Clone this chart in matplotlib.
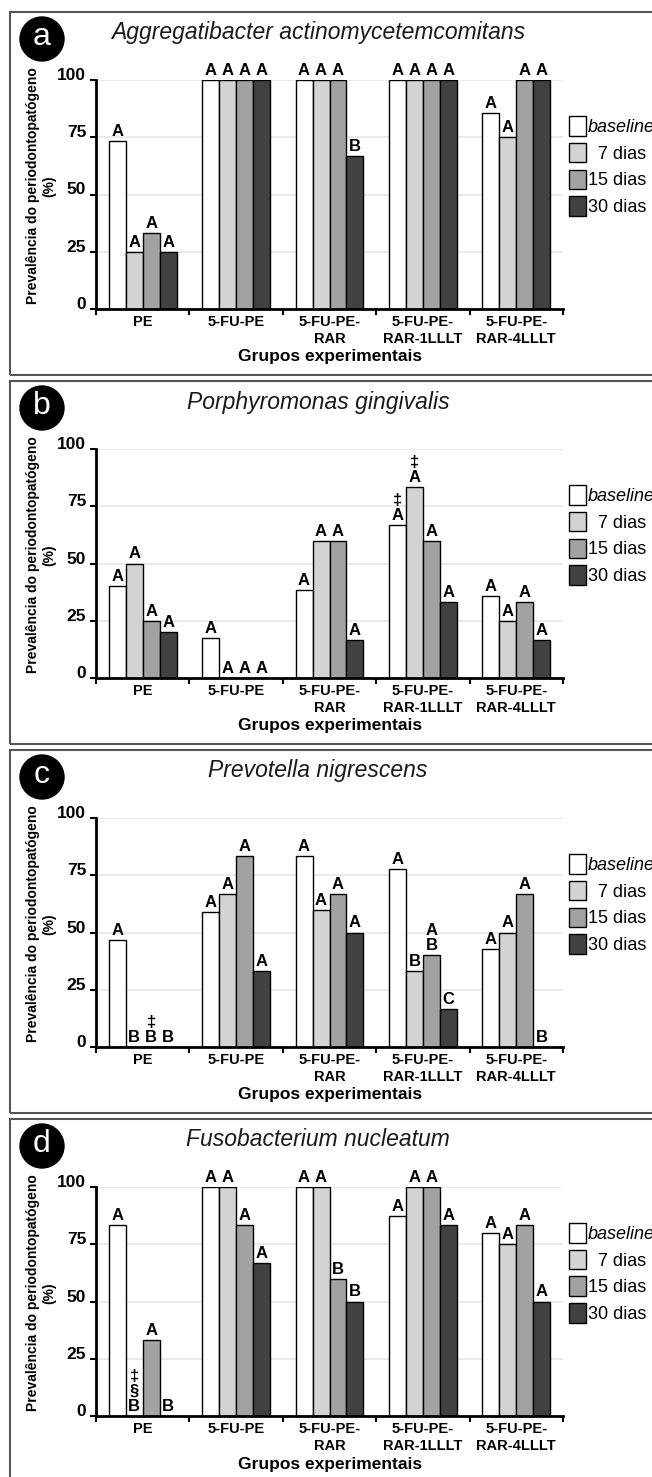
# Prevalence of periodontopathogens per experimental group (4 panels)

import matplotlib
matplotlib.use('Agg')
import matplotlib.pyplot as plt
from matplotlib.patches import Patch, Circle, Rectangle
import numpy as np

plt.rcParams['font.family'] = ['Liberation Sans', 'DejaVu Sans']

# ---- data ----
groups = ['PE', '5-FU-PE', '5-FU-PE-\nRAR', '5-FU-PE-\nRAR-1LLLT', '5-FU-PE-\nRAR-4LLLT']
periods = ['baseline', '\u20077 dias', '15 dias', '30 dias']
colors = ['#ffffff', '#d3d3d3', '#a2a2a2', '#414141']
species = ['Aggregatibacter actinomycetemcomitans', 'Porphyromonas gingivalis',
           'Prevotella nigrescens', 'Fusobacterium nucleatum']
panel_tags = ['a', 'b', 'c', 'd']

# values (%) -> one row per period, one column per group
aa_values = [[73.3, 100, 100, 100, 85.7],
             [25, 100, 100, 100, 75],
             [33.3, 100, 100, 100, 100],
             [25, 100, 66.7, 100, 100]]
aa_letters = [['A', 'A', 'A', 'A', 'A'],
              ['A', 'A', 'A', 'A', 'A'],
              ['A', 'A', 'A', 'A', 'A'],
              ['A', 'A', 'B', 'A', 'A']]

pg_values = [[40, 17.6, 38.5, 66.7, 35.7],
             [50, 0, 60, 83.3, 25],
             [25, 0, 60, 60, 33.3],
             [20, 0, 16.7, 33.3, 16.7]]
pg_letters = [['A', 'A', 'A', '\u2021\nA', 'A'],
              ['A', 'A', 'A', '\u2021\nA', 'A'],
              ['A', 'A', 'A', 'A', 'A'],
              ['A', 'A', 'A', 'A', 'A']]

pn_values = [[46.7, 58.8, 83.3, 77.8, 42.9],
             [0, 66.7, 60, 33.3, 50],
             [0, 83.3, 66.7, 40, 66.7],
             [0, 33.3, 50, 16.7, 0]]
pn_letters = [['A', 'A', 'A', 'A', 'A'],
              ['B', 'A', 'A', 'B', 'A'],
              ['\u2021\nB', 'A', 'A', 'A\nB', 'A'],
              ['B', 'A', 'A', 'C', 'B']]

fn_values = [[83.3, 100, 100, 87.5, 80],
             [0, 100, 100, 100, 75],
             [33.3, 83.3, 60, 100, 83.3],
             [0, 66.7, 50, 83.3, 50]]
fn_letters = [['A', 'A', 'A', 'A', 'A'],
              ['\u2021\n\u00a7\nB', 'A', 'A', 'A', 'A'],
              ['A', 'A', 'B', 'A', 'A'],
              ['B', 'A', 'B', 'A', 'A']]

all_values = [aa_values, pg_values, pn_values, fn_values]
all_letters = [aa_letters, pg_letters, pn_letters, fn_letters]

# ---- layout (pixels) ----
W, H = 652, 1477
panel_tops = [12, 381, 750, 1119]

fig = plt.figure(figsize=(W / 100, H / 100), dpi=100)

bar_w = 0.182
x = np.arange(len(groups))

for p, T in enumerate(panel_tops):
    # panel frame
    fig.add_artist(Rectangle((10 / W, 1 - (T + 363) / H), 660 / W, 363 / H,
                             transform=fig.transFigure, fill=False,
                             edgecolor='#555555', lw=1.5))
    # panel tag circle
    cx, cy = 42 / 100, (H - (T + 27)) / 100
    fig.add_artist(Circle((cx, cy), 0.22, transform=fig.dpi_scale_trans,
                          facecolor='black', edgecolor='black'))
    fig.text(42 / W, 1 - (T + 25) / H, panel_tags[p], color='white',
             fontsize=23, ha='center', va='center')
    fig.text(318 / W, 1 - (T + 21) / H, species[p], fontsize=16.5,
             style='italic', ha='center', va='center', color='#1a1a1a')

    ax = fig.add_axes([96 / W, 1 - (T + 297) / H, 467 / W, 229 / H])
    ax.set_axisbelow(True)
    ax.yaxis.grid(True, color='#e6e6e6', lw=1.2)

    vals = all_values[p]
    lets = all_letters[p]
    for i in range(len(periods)):
        pos = x + (i - 1.5) * bar_w
        ax.bar(pos, vals[i], bar_w, color=colors[i], edgecolor='black', lw=1.0,
               label=periods[i])
        for xx, v, t in zip(pos, vals[i], lets[i]):
            ax.annotate(t, (xx, v), xytext=(0, 1.5), textcoords='offset points',
                        ha='center', va='bottom', fontsize=12, fontweight='bold',
                        linespacing=1.0, annotation_clip=False)

    ax.set_xlim(-0.5, len(groups) - 0.5)
    ax.set_ylim(0, 100)
    ax.set_yticks([0, 25, 50, 75, 100])
    ax.set_yticklabels(['0', '25', '50', '75', '100'], fontsize=12.5, fontweight='bold')
    for lbl in ax.get_yticklabels():
        lbl.set_va('baseline')
    ax.set_xticks(np.arange(-0.5, len(groups), 1.0))
    ax.set_xticklabels([])
    ax.set_xticks(x, minor=True)
    ax.set_xticklabels(groups, minor=True, fontsize=10.5, fontweight='bold',
                       linespacing=1.3)
    ax.tick_params(axis='x', which='minor', length=0, pad=4)
    ax.tick_params(axis='x', which='major', direction='out', length=4, width=1.5)
    ax.tick_params(axis='y', direction='out', length=4, width=1.5, pad=3)
    for s in ['top', 'right']:
        ax.spines[s].set_visible(False)
    for s in ['left', 'bottom']:
        ax.spines[s].set_linewidth(2)

    fig.text(41 / W, 1 - (T + 174) / H, 'Prevalência do periodontopatógeno\n(%)',
             rotation=90, ha='center', va='center', fontsize=10, fontweight='bold',
             linespacing=1.25)
    fig.text(330 / W, 1 - (T + 345) / H, 'Grupos experimentais', ha='center',
             va='center', fontsize=12.5, fontweight='bold')

    handles = [Patch(facecolor=c, edgecolor='black', lw=1.0) for c in colors]
    leg = ax.legend(handles, periods, loc='upper left',
                    bbox_to_anchor=(569 / W, 1 - (T + 104) / H),
                    bbox_transform=fig.transFigure, frameon=False, fontsize=13,
                    handlelength=0.94, handleheight=1.3, handletextpad=0.1,
                    labelspacing=0.38, borderpad=0, borderaxespad=0)
    leg.get_texts()[0].set_style('italic')

fig.savefig('out.png', dpi=100)
